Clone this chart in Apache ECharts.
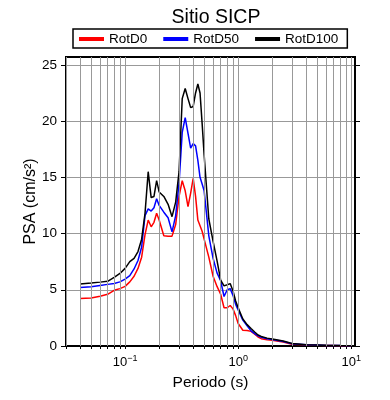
<!DOCTYPE html>
<html>
<head>
<meta charset="utf-8">
<script src="https://cdn.jsdelivr.net/npm/echarts@6/dist/echarts.min.js"></script>
<style>
  html, body { margin: 0; padding: 0; background: #fff; }
  #chart { width: 390px; height: 400px; }
</style>
</head>
<body>
<div id="chart"></div>
<script>
// periodos (s)
var periods = [0.04, 0.05, 0.06, 0.07, 0.08, 0.09, 0.1, 0.11, 0.12, 0.13, 0.14, 0.15, 0.16, 0.17, 0.18, 0.19, 0.2,
  0.22, 0.24, 0.26, 0.28, 0.3, 0.32, 0.34, 0.36, 0.38, 0.4, 0.42, 0.44, 0.46, 0.48, 0.5, 0.55, 0.6, 0.65, 0.7,
  0.75, 0.8, 0.85, 0.9, 0.95, 1.0, 1.1, 1.2, 1.3, 1.4, 1.5, 1.6, 1.8, 2.0, 2.5, 3, 4, 5, 6, 7, 8, 10];

var rotD0 = [4.22, 4.27, 4.43, 4.6, 4.95, 5.1, 5.3, 5.7, 6.2, 6.9, 7.9, 9.9, 11.2, 10.6, 11.0, 11.8, 11.2,
  9.8, 9.77, 9.77, 10.8, 13.3, 14.7, 13.8, 12.4, 13.6, 14.9, 13.3, 11.2, 10.7, 10.2, 9.5, 7.9, 6.2, 5.3, 4.6,
  3.4, 3.4, 3.6, 3.3, 2.7, 2.0, 1.4, 1.37, 1.3, 1.05, 0.8, 0.65, 0.55, 0.5, 0.36, 0.15, 0.1, 0.07, 0.05, 0.04, 0.03, 0.02];

var rotD50 = [5.2, 5.26, 5.38, 5.48, 5.55, 5.7, 5.95, 6.25, 6.85, 7.6, 8.8, 11.6, 12.2, 12.0, 12.3, 13.1, 12.5,
  11.9, 11.4, 10.15, 11.6, 14.5, 19.0, 20.3, 18.9, 17.6, 18.0, 17.8, 16.5, 15.0, 14.4, 13.8, 9.8, 7.8, 6.5, 5.8,
  4.4, 5.0, 5.1, 4.5, 3.7, 3.2, 2.3, 1.8, 1.35, 1.1, 0.9, 0.78, 0.65, 0.58, 0.4, 0.2, 0.11, 0.08, 0.055, 0.045, 0.035, 0.025];

var rotD100 = [5.52, 5.6, 5.68, 5.75, 6.1, 6.45, 6.9, 7.5, 7.8, 8.4, 9.5, 11.8, 15.5, 13.2, 13.3, 14.7, 13.7,
  13.3, 12.6, 11.5, 12.8, 15.5, 22.0, 22.9, 22.0, 21.2, 21.3, 22.5, 23.3, 22.5, 19.8, 17.0, 11.3, 9.3, 7.6, 5.85,
  5.35, 5.45, 5.55, 4.9, 4.0, 3.4, 2.4, 1.9, 1.55, 1.25, 0.98, 0.85, 0.7, 0.63, 0.45, 0.22, 0.12, 0.09, 0.06, 0.05, 0.04, 0.03];

var xTicks = [0.03, 0.04, 0.05, 0.06, 0.07, 0.08, 0.09, 0.1, 0.2, 0.3, 0.4, 0.5, 0.6, 0.7, 0.8, 0.9,
  1, 2, 3, 4, 5, 6, 7, 8, 9, 10];
var xLabels = [0.1, 1, 10];
var yTicks = [0, 5, 10, 15, 20, 25];

var X_MIN = 0.03, X_MAX = 10.8, Y_MIN = 0, Y_MAX = 25.7;
var FONT = 'Liberation Sans, Arial, Helvetica, sans-serif';

function pairs(vals) {
  return periods.map(function (p, i) { return [p, vals[i]]; });
}

function supLabel(v) {
  var e = Math.round(Math.log10(v));
  if (Math.abs(Math.log10(v) - e) > 0.01) return '';
  return '{b|10}{s|' + (e < 0 ? '\u2212' : '') + Math.abs(e) + '}';
}

var chart = echarts.init(document.getElementById('chart'), null, { renderer: 'canvas' });

var option = {
  animation: false,
  textStyle: { fontFamily: FONT },
  title: {
    text: 'Sitio SICP',
    left: 211,
    textAlign: 'center',
    top: 3,
    textStyle: { fontSize: 19.5, fontWeight: 'normal', color: '#000', fontFamily: FONT }
  },
  legend: {
    left: 73,
    top: 29,
    orient: 'horizontal',
    borderColor: '#000',
    borderWidth: 1.5,
    borderRadius: 0,
    padding: [3, 9, 2, 6],
    itemWidth: 25,
    itemHeight: 4,
    itemGap: 16,
    textStyle: { fontSize: 13.5, color: '#000', fontFamily: FONT },
    data: [
      { name: 'RotD0', icon: 'rect' },
      { name: 'RotD50', icon: 'rect' },
      { name: 'RotD100', icon: 'rect' }
    ]
  },
  grid: {
    left: 66, right: 35, top: 57, bottom: 54,
    show: true, borderColor: '#000', borderWidth: 2, backgroundColor: 'transparent'
  },
  xAxis: [{
    type: 'log',
    logBase: 10,
    min: X_MIN,
    max: X_MAX,
    name: 'Periodo (s)',
    nameLocation: 'middle',
    nameGap: 29,
    nameMoveOverlap: false,
    nameTextStyle: { fontSize: 15.5, color: '#000', fontFamily: FONT },
    axisLine: { show: true, lineStyle: { color: '#000', width: 2 } },
    axisTick: { show: true, customValues: xTicks, length: 3, lineStyle: { color: '#000', width: 1 } },
    axisLabel: {
      customValues: xLabels,
      margin: 8,
      formatter: supLabel,
      rich: {
        b: { fontSize: 13, color: '#000', fontFamily: FONT },
        s: { fontSize: 9, color: '#000', fontFamily: FONT, verticalAlign: 'top', padding: [0, 0, 8, 0] }
      }
    },
    splitLine: { show: false }
  }, {
    type: 'log',
    logBase: 10,
    position: 'top',
    min: X_MIN,
    max: X_MAX,
    axisLine: { show: true, lineStyle: { color: '#000', width: 2 } },
    axisTick: { show: true, customValues: xTicks, length: 3, lineStyle: { color: '#000', width: 1 } },
    axisLabel: { show: false },
    splitLine: { show: false }
  }],
  yAxis: [{
    type: 'value',
    min: Y_MIN,
    max: Y_MAX,
    interval: 5,
    name: 'PSA (cm/s\u00b2)',
    nameLocation: 'middle',
    nameGap: 27,
    nameMoveOverlap: false,
    nameTextStyle: { fontSize: 16, color: '#000', fontFamily: FONT },
    axisLine: { show: true, lineStyle: { color: '#000', width: 2 } },
    axisTick: { show: true, customValues: yTicks, length: 5, lineStyle: { color: '#000', width: 1 } },
    axisLabel: { customValues: yTicks, margin: 9, fontSize: 13.5, color: '#000', fontFamily: FONT },
    splitLine: { show: true, lineStyle: { color: '#999999', width: 1 } }
  }, {
    type: 'value',
    position: 'right',
    min: Y_MIN,
    max: Y_MAX,
    interval: 5,
    axisLine: { show: true, lineStyle: { color: '#000', width: 2 } },
    axisTick: { show: true, customValues: yTicks, length: 5, lineStyle: { color: '#000', width: 1 } },
    axisLabel: { show: false },
    splitLine: { show: false }
  }],
  series: [
    {
      // lineas de cuadricula verticales
      name: 'grid',
      type: 'line',
      data: [],
      z: 1,
      silent: true,
      markLine: {
        silent: true,
        symbol: 'none',
        label: { show: false },
        lineStyle: { color: '#999999', width: 1, type: 'solid' },
        emphasis: { disabled: true },
        data: xTicks.map(function (v) { return { xAxis: v }; })
      }
    },
    {
      name: 'RotD0', type: 'line', data: pairs(rotD0), showSymbol: false, z: 3,
      color: '#ff0000', lineStyle: { color: '#ff0000', width: 1.5 }
    },
    {
      name: 'RotD50', type: 'line', data: pairs(rotD50), showSymbol: false, z: 3,
      color: '#0000ff', lineStyle: { color: '#0000ff', width: 1.5 }
    },
    {
      name: 'RotD100', type: 'line', data: pairs(rotD100), showSymbol: false, z: 3,
      color: '#000000', lineStyle: { color: '#000000', width: 1.5 }
    }
  ]
};

chart.setOption(option);
</script>
</body>
</html>
